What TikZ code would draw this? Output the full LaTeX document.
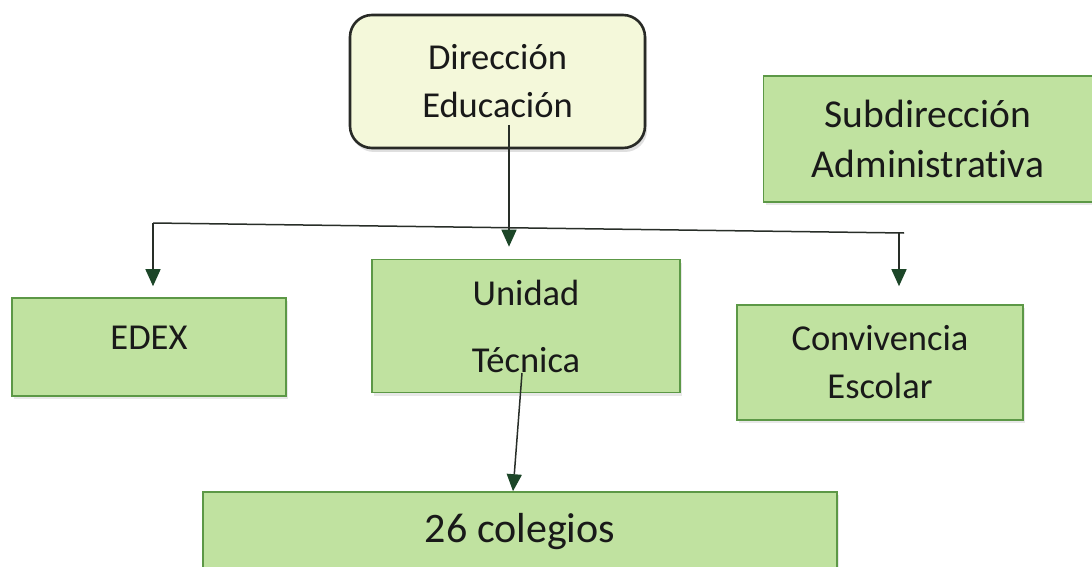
\documentclass[tikz,border=0pt]{standalone}
\usepackage{fontspec}
\setmainfont{Carlito}[Ligatures={NoCommon}]
\usetikzlibrary{arrows.meta,shadows}
\definecolor{boxgreen}{RGB}{192,226,160}
\definecolor{boxgreenline}{RGB}{92,152,70}
\definecolor{diryellow}{RGB}{244,248,218}
\definecolor{dirline}{RGB}{40,42,38}
\definecolor{linkcol}{RGB}{40,46,40}
\definecolor{headcol}{RGB}{28,70,40}
\tikzset{
  gbox/.style={draw=boxgreenline, line width=1.6pt, fill=boxgreen, align=center,
    inner sep=0pt, text=black!90,
    font=\fontsize{36.5}{48}\selectfont,
    drop shadow={opacity=0.18, shadow xshift=2pt, shadow yshift=-3pt}},
  dirbox/.style={draw=dirline, line width=2.6pt, fill=diryellow, rounded corners=22pt,
    align=center, inner sep=0pt, text=black!90,
    font=\fontsize{36.5}{48}\selectfont,
    drop shadow={opacity=0.25, shadow xshift=2pt, shadow yshift=-4pt}},
  link/.style={draw=linkcol, line width=1.5pt},
  arr/.style={link, -{Triangle[length=17pt,width=15pt,fill=headcol,color=headcol]}}
}
\begin{document}
\begin{tikzpicture}[x=1pt,y=-1pt]
\useasboundingbox (0,0) rectangle (1092,567);
\clip (0,0) rectangle (1092,567);
\fill[white] (0,0) rectangle (1092,567);

\node[gbox, minimum width=329pt, minimum height=126pt,
  font=\fontsize{39.5}{50}\selectfont] (sub) at (928,139)
  {Subdirección\\Administrativa};
\node[dirbox, minimum width=295pt, minimum height=133pt] (dir) at (497.5,81.5)
  {Dirección\\Educación};
\node[gbox, minimum width=274pt, minimum height=98pt, text depth=18pt] (edex) at (149,347) {EDEX};
\node[gbox, minimum width=308pt, minimum height=133pt] (unid) at (526,326)
  {Unidad\\[19pt]Técnica};
\node[gbox, minimum width=286pt, minimum height=115pt] (conv) at (880,362.5)
  {Convivencia\\Escolar};
\node[gbox, minimum width=634pt, minimum height=80pt,
  font=\fontsize{42}{50}\selectfont] (col) at (520,532) {26 colegios};

\coordinate (dirout) at (509,125);
\coordinate (busL) at (153,223);
\coordinate (busR) at (904,233);
\coordinate (dropR) at (899,232.7);
\coordinate (unidout) at (522,373);

\draw[arr, shorten >=12pt] (dirout) -- (dirout |- unid.north);
\draw[link] (busL) -- (busR);
\draw[arr, shorten >=11pt] (busL) -- (busL |- edex.north);
\draw[arr, shorten >=18pt] (dropR) -- (dropR |- conv.north);
\draw[arr] (unidout) -- ([xshift=-7pt]col.north);
\end{tikzpicture}
\end{document}
